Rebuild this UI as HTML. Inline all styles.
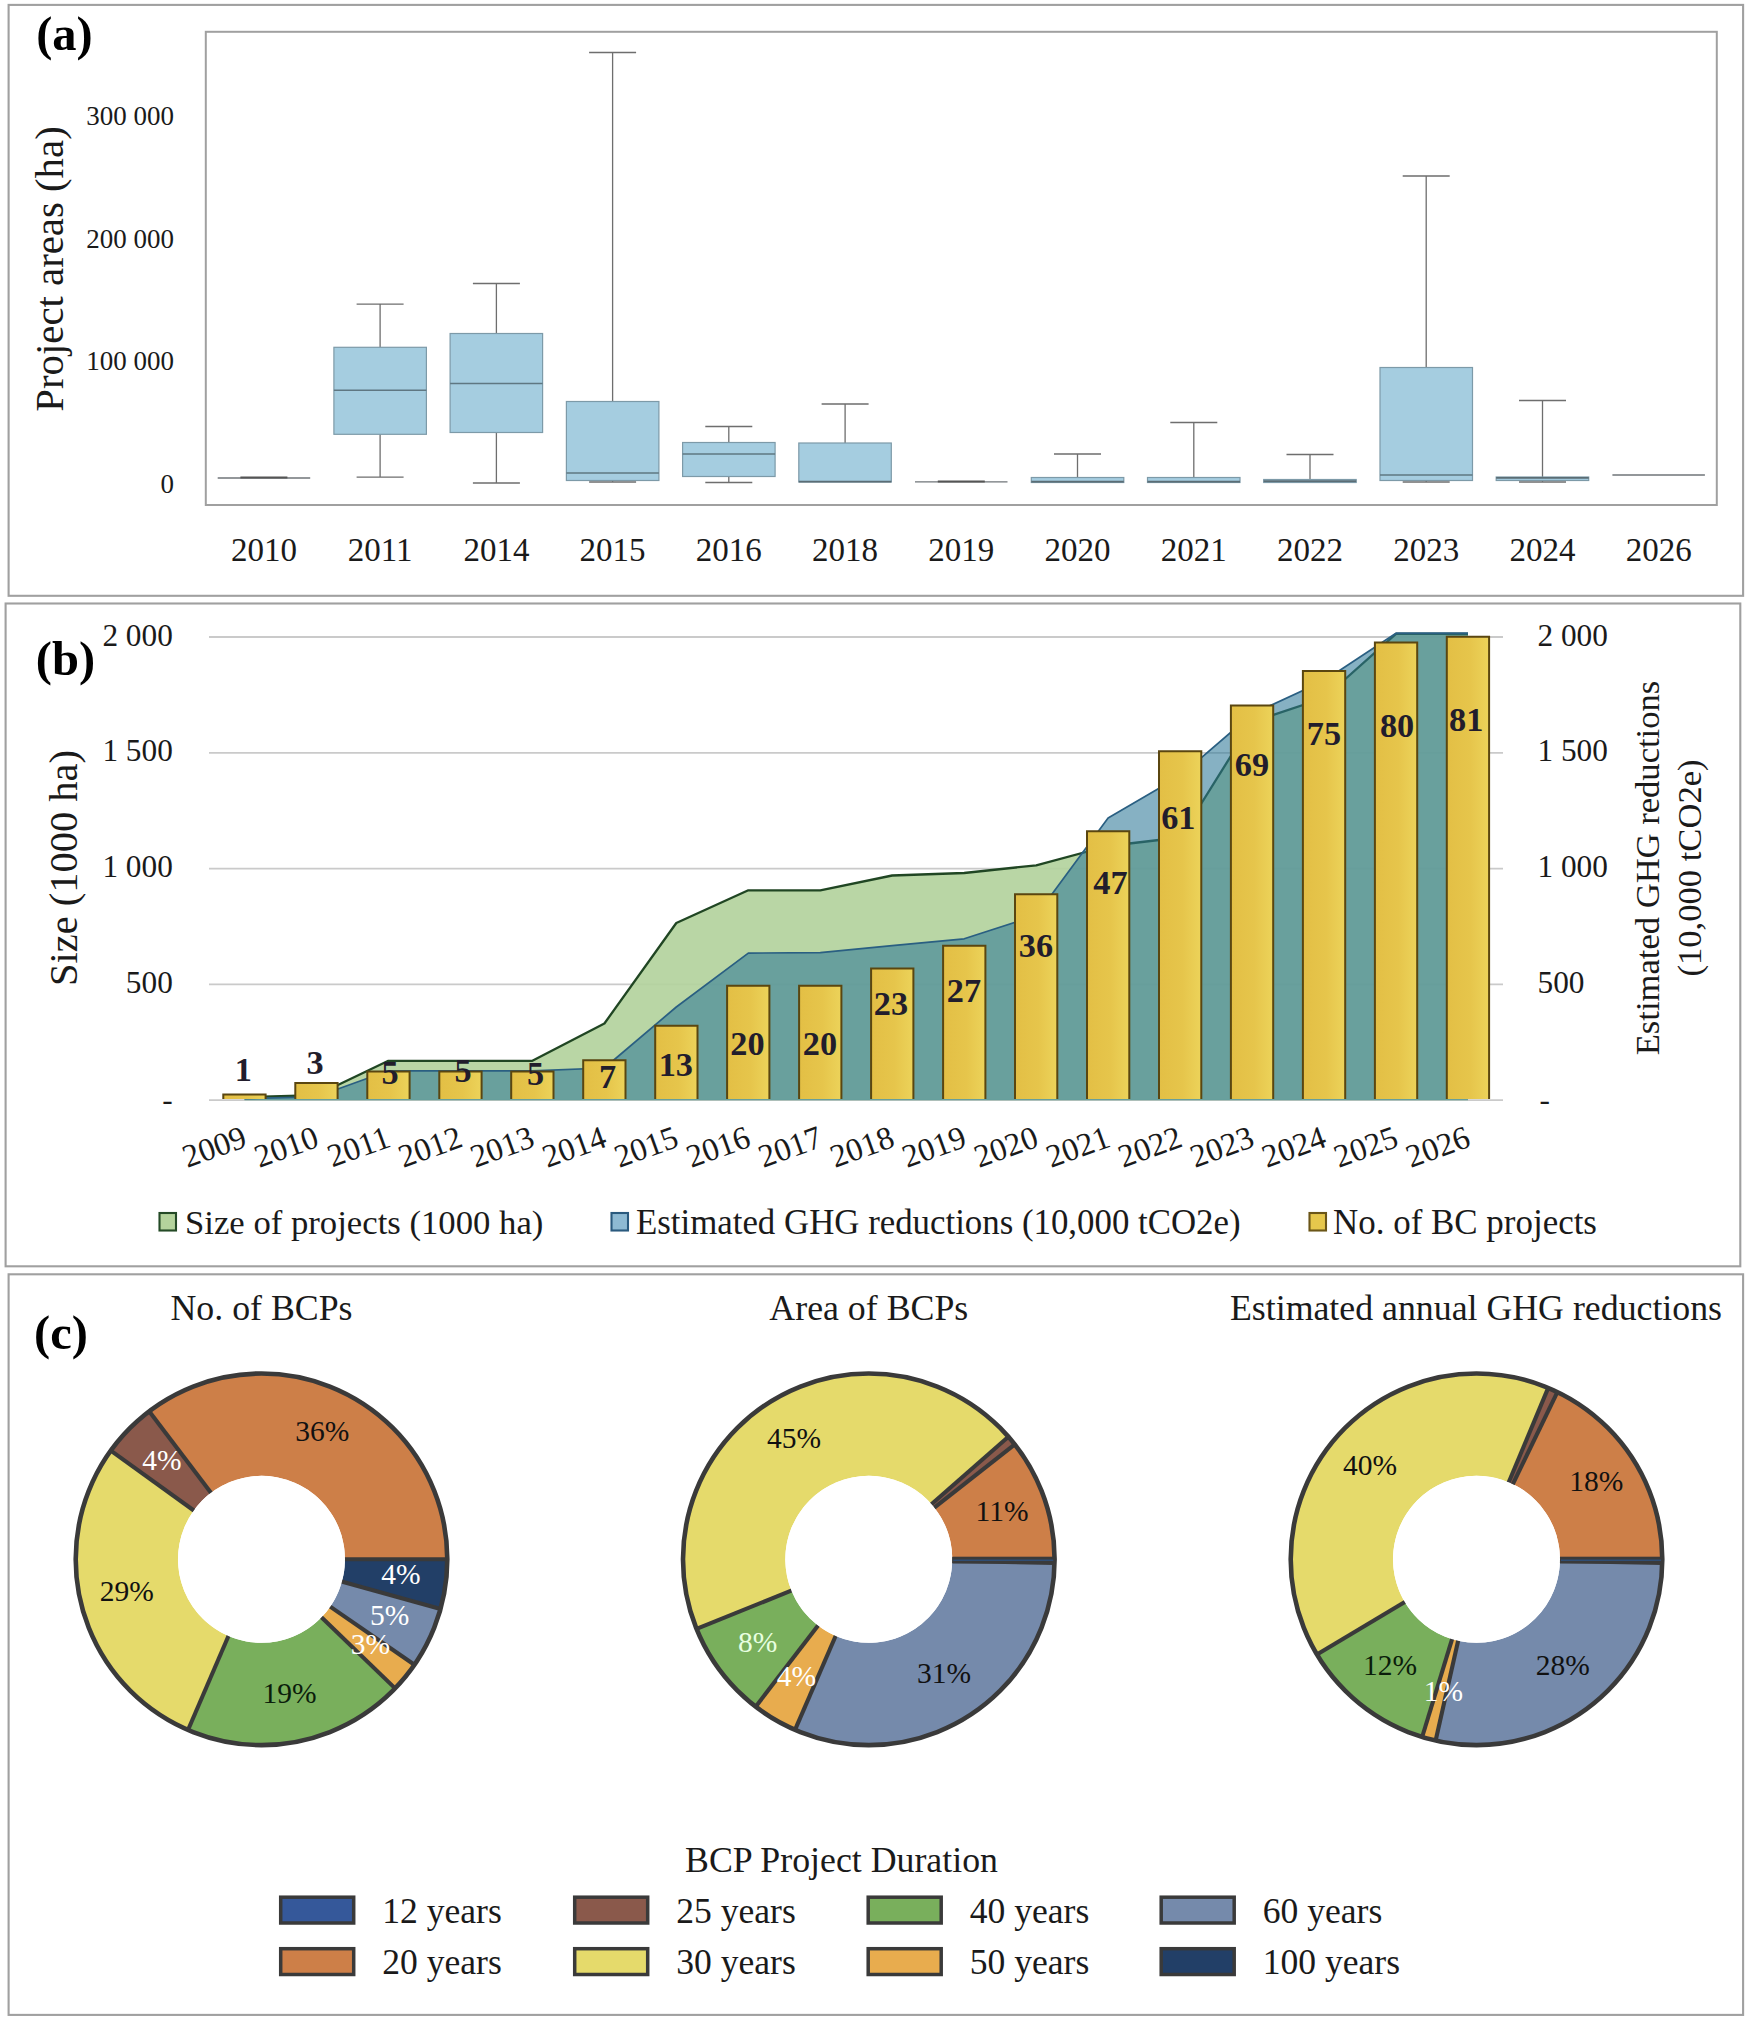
<!DOCTYPE html>
<html lang="en"><head><meta charset="utf-8"><title>Blue carbon projects figure</title>
<style>html,body{margin:0;padding:0;background:#fff}body{width:1750px;height:2023px;overflow:hidden;font-family:"Liberation Serif", "Times New Roman", serif}
svg text{font-kerning:normal}</style></head>
<body>
<svg width="1750" height="2023" viewBox="0 0 1750 2023" font-family='"Liberation Serif", "Times New Roman", serif' style="display:block">
<g id="panel-a">
<rect x="8.6" y="4.9" width="1734.5" height="590.9" fill="none" stroke="#a0a0a0" stroke-width="2.1"/>
<rect x="205.8" y="31.8" width="1511.0" height="473.2" fill="#fff" stroke="#a0a0a0" stroke-width="2"/>
<text x="36.2" y="50.0" font-size="48.5" text-anchor="start" font-weight="bold" fill="#000" >(a)</text>
<text x="174.0" y="124.6" font-size="27" text-anchor="end" font-weight="normal" fill="#1a1a1a" >300 000</text>
<text x="174.0" y="247.6" font-size="27" text-anchor="end" font-weight="normal" fill="#1a1a1a" >200 000</text>
<text x="174.0" y="369.6" font-size="27" text-anchor="end" font-weight="normal" fill="#1a1a1a" >100 000</text>
<text x="174.0" y="492.6" font-size="27" text-anchor="end" font-weight="normal" fill="#1a1a1a" >0</text>
<text transform="translate(63.2,269) rotate(-90)" font-size="40.8" text-anchor="middle" fill="#1a1a1a">Project areas (ha)</text>
<text x="263.9" y="561.3" font-size="33" text-anchor="middle" font-weight="normal" fill="#1a1a1a" >2010</text>
<text x="380.1" y="561.3" font-size="33" text-anchor="middle" font-weight="normal" fill="#1a1a1a" >2011</text>
<text x="496.4" y="561.3" font-size="33" text-anchor="middle" font-weight="normal" fill="#1a1a1a" >2014</text>
<text x="612.6" y="561.3" font-size="33" text-anchor="middle" font-weight="normal" fill="#1a1a1a" >2015</text>
<text x="728.8" y="561.3" font-size="33" text-anchor="middle" font-weight="normal" fill="#1a1a1a" >2016</text>
<text x="845.1" y="561.3" font-size="33" text-anchor="middle" font-weight="normal" fill="#1a1a1a" >2018</text>
<text x="961.3" y="561.3" font-size="33" text-anchor="middle" font-weight="normal" fill="#1a1a1a" >2019</text>
<text x="1077.5" y="561.3" font-size="33" text-anchor="middle" font-weight="normal" fill="#1a1a1a" >2020</text>
<text x="1193.8" y="561.3" font-size="33" text-anchor="middle" font-weight="normal" fill="#1a1a1a" >2021</text>
<text x="1310.0" y="561.3" font-size="33" text-anchor="middle" font-weight="normal" fill="#1a1a1a" >2022</text>
<text x="1426.2" y="561.3" font-size="33" text-anchor="middle" font-weight="normal" fill="#1a1a1a" >2023</text>
<text x="1542.5" y="561.3" font-size="33" text-anchor="middle" font-weight="normal" fill="#1a1a1a" >2024</text>
<text x="1658.7" y="561.3" font-size="33" text-anchor="middle" font-weight="normal" fill="#1a1a1a" >2026</text>
<path d="M217.7 478.0H310.2" stroke="#6f7478" stroke-width="1.3"/>
<path d="M240.4 477.6H287.4" stroke="#555" stroke-width="2"/>
<path d="M380.1 304.2V347.3M356.6 304.2H403.6" stroke="#6e6e6e" stroke-width="1.3" fill="none"/>
<path d="M380.1 434.3V477.2M356.6 477.2H403.6" stroke="#6e6e6e" stroke-width="1.3" fill="none"/>
<rect x="333.9" y="347.3" width="92.5" height="87.0" fill="#a5cde0" stroke="#7d9aa8" stroke-width="1.2"/>
<path d="M333.9 390.3H426.4" stroke="#5f7782" stroke-width="1.6"/>
<path d="M496.4 283.5V333.5M472.9 283.5H519.9" stroke="#6e6e6e" stroke-width="1.3" fill="none"/>
<path d="M496.4 432.5V483M472.9 483H519.9" stroke="#6e6e6e" stroke-width="1.3" fill="none"/>
<rect x="450.1" y="333.5" width="92.5" height="99.0" fill="#a5cde0" stroke="#7d9aa8" stroke-width="1.2"/>
<path d="M450.1 383.5H542.6" stroke="#5f7782" stroke-width="1.6"/>
<path d="M612.6 52.5V401.5M589.1 52.5H636.1" stroke="#6e6e6e" stroke-width="1.3" fill="none"/>
<path d="M612.6 480.5V482M589.1 482H636.1" stroke="#6e6e6e" stroke-width="1.3" fill="none"/>
<rect x="566.4" y="401.5" width="92.5" height="79.0" fill="#a5cde0" stroke="#7d9aa8" stroke-width="1.2"/>
<path d="M566.4 473H658.9" stroke="#5f7782" stroke-width="1.6"/>
<path d="M728.8 426.5V442.5M705.3 426.5H752.3" stroke="#6e6e6e" stroke-width="1.3" fill="none"/>
<path d="M728.8 476.5V482.5M705.3 482.5H752.3" stroke="#6e6e6e" stroke-width="1.3" fill="none"/>
<rect x="682.6" y="442.5" width="92.5" height="34.0" fill="#a5cde0" stroke="#7d9aa8" stroke-width="1.2"/>
<path d="M682.6 454H775.1" stroke="#5f7782" stroke-width="1.6"/>
<path d="M845.1 404V443M821.6 404H868.6" stroke="#6e6e6e" stroke-width="1.3" fill="none"/>
<rect x="798.8" y="443" width="92.5" height="39.0" fill="#a5cde0" stroke="#7d9aa8" stroke-width="1.2"/>
<path d="M798.8 481.6H891.3" stroke="#5b6d75" stroke-width="1.7"/>
<path d="M915.0 481.8H1007.5" stroke="#6f7478" stroke-width="1.3"/>
<path d="M937.8 481.40000000000003H984.8" stroke="#555" stroke-width="2"/>
<path d="M1077.5 454V477.5M1054.0 454H1101.0" stroke="#6e6e6e" stroke-width="1.3" fill="none"/>
<rect x="1031.3" y="477.5" width="92.5" height="5.0" fill="#a5cde0" stroke="#7d9aa8" stroke-width="1.2"/>
<path d="M1031.3 481.6H1123.8" stroke="#5b6d75" stroke-width="1.7"/>
<path d="M1193.8 422.5V477.5M1170.3 422.5H1217.3" stroke="#6e6e6e" stroke-width="1.3" fill="none"/>
<rect x="1147.5" y="477.5" width="92.5" height="5.0" fill="#a5cde0" stroke="#7d9aa8" stroke-width="1.2"/>
<path d="M1147.5 481.6H1240.0" stroke="#5b6d75" stroke-width="1.7"/>
<path d="M1310.0 454.5V479.5M1286.5 454.5H1333.5" stroke="#6e6e6e" stroke-width="1.3" fill="none"/>
<rect x="1263.7" y="479.5" width="92.5" height="3.0" fill="#a5cde0" stroke="#7d9aa8" stroke-width="1.2"/>
<path d="M1263.7 481.2H1356.2" stroke="#5b6d75" stroke-width="1.7"/>
<path d="M1426.2 176V367.5M1402.7 176H1449.7" stroke="#6e6e6e" stroke-width="1.3" fill="none"/>
<path d="M1426.2 480.5V482M1402.7 482H1449.7" stroke="#6e6e6e" stroke-width="1.3" fill="none"/>
<rect x="1380.0" y="367.5" width="92.5" height="113.0" fill="#a5cde0" stroke="#7d9aa8" stroke-width="1.2"/>
<path d="M1380.0 475H1472.5" stroke="#5f7782" stroke-width="1.6"/>
<path d="M1542.5 400.5V477M1519.0 400.5H1566.0" stroke="#6e6e6e" stroke-width="1.3" fill="none"/>
<path d="M1542.5 480.5V482M1519.0 482H1566.0" stroke="#6e6e6e" stroke-width="1.3" fill="none"/>
<rect x="1496.2" y="477" width="92.5" height="3.5" fill="#a5cde0" stroke="#7d9aa8" stroke-width="1.2"/>
<path d="M1496.2 477.9H1588.7" stroke="#5b6d75" stroke-width="1.7"/>
<path d="M1612.4 475.0H1704.9" stroke="#6f7478" stroke-width="1.3"/>
</g>
<g id="panel-b">
<rect x="5.6" y="603.5" width="1734.7" height="662.8" fill="none" stroke="#a0a0a0" stroke-width="2.1"/>
<text x="35.8" y="674.8" font-size="48.5" text-anchor="start" font-weight="bold" fill="#000" >(b)</text>
<path d="M209 1100.2H1503" stroke="#cacaca" stroke-width="1.8"/>
<path d="M209 984.4H1503" stroke="#cacaca" stroke-width="1.8"/>
<path d="M209 868.6H1503" stroke="#cacaca" stroke-width="1.8"/>
<path d="M209 752.8H1503" stroke="#cacaca" stroke-width="1.8"/>
<path d="M209 637.0H1503" stroke="#cacaca" stroke-width="1.8"/>
<text x="172.8" y="645.5" font-size="31.3" text-anchor="end" font-weight="normal" fill="#1a1a1a" >2 000</text>
<text x="1537.5" y="645.5" font-size="31.3" text-anchor="start" font-weight="normal" fill="#1a1a1a" >2 000</text>
<text x="172.8" y="761.3" font-size="31.3" text-anchor="end" font-weight="normal" fill="#1a1a1a" >1 500</text>
<text x="1537.5" y="761.3" font-size="31.3" text-anchor="start" font-weight="normal" fill="#1a1a1a" >1 500</text>
<text x="172.8" y="877.1" font-size="31.3" text-anchor="end" font-weight="normal" fill="#1a1a1a" >1 000</text>
<text x="1537.5" y="877.1" font-size="31.3" text-anchor="start" font-weight="normal" fill="#1a1a1a" >1 000</text>
<text x="172.8" y="992.9" font-size="31.3" text-anchor="end" font-weight="normal" fill="#1a1a1a" >500</text>
<text x="1537.5" y="992.9" font-size="31.3" text-anchor="start" font-weight="normal" fill="#1a1a1a" >500</text>
<text x="172.8" y="1110.4" font-size="31.3" text-anchor="end" font-weight="normal" fill="#1a1a1a" >-</text>
<text x="1539.6" y="1110.4" font-size="31.3" text-anchor="start" font-weight="normal" fill="#1a1a1a" >-</text>
<text transform="translate(77,868) rotate(-90)" font-size="40.5" text-anchor="middle" fill="#1a1a1a">Size (1000 ha)</text>
<text transform="translate(1659,868) rotate(-90)" font-size="34.6" text-anchor="middle" fill="#1a1a1a">Estimated GHG reductions</text>
<text transform="translate(1701,868) rotate(-90)" font-size="34.6" text-anchor="middle" fill="#1a1a1a">(10,000 tCO2e)</text>
<path d="M244.5 1100.2 L244.5 1097.3 L316.5 1095.2 L388.4 1060.8 L460.4 1060.8 L532.4 1060.8 L604.4 1023.5 L676.3 923.0 L748.3 890.3 L820.3 890.3 L892.2 875.5 L964.2 873.0 L1036.2 865.3 L1108.1 846.0 L1180.1 837.5 L1252.1 722.0 L1324.0 698.0 L1396.0 633.8 L1468.0 633.8 L1468.0 1100.2Z" fill="#b3d29d" fill-opacity="0.92" stroke="none"/>
<path d="M244.5 1097.3 L316.5 1095.2 L388.4 1060.8 L460.4 1060.8 L532.4 1060.8 L604.4 1023.5 L676.3 923.0 L748.3 890.3 L820.3 890.3 L892.2 875.5 L964.2 873.0 L1036.2 865.3 L1108.1 846.0 L1180.1 837.5 L1252.1 722.0 L1324.0 698.0 L1396.0 633.8 L1468.0 633.8" fill="none" stroke="#204623" stroke-width="2.3" stroke-linejoin="round"/>
<path d="M244.5 1100.2 L244.5 1098.6 L316.5 1096.8 L388.4 1070.8 L460.4 1070.8 L532.4 1070.8 L604.4 1068.0 L676.3 1007.0 L748.3 953.1 L820.3 952.6 L892.2 945.6 L964.2 938.8 L1036.2 915.4 L1108.1 818.0 L1180.1 776.0 L1252.1 714.0 L1324.0 680.7 L1396.0 633.2 L1468.0 633.2 L1468.0 1100.2Z" fill="#2f7898" fill-opacity="0.58" stroke="none"/>
<path d="M244.5 1098.6 L316.5 1096.8 L388.4 1070.8 L460.4 1070.8 L532.4 1070.8 L604.4 1068.0 L676.3 1007.0 L748.3 953.1 L820.3 952.6 L892.2 945.6 L964.2 938.8 L1036.2 915.4 L1108.1 818.0 L1180.1 776.0 L1252.1 714.0 L1324.0 680.7 L1396.0 633.2 L1468.0 633.2" fill="none" stroke="#2a5f82" stroke-width="1.7" stroke-linejoin="round"/>
<defs><linearGradient id="barg" x1="0" x2="1" y1="0" y2="0"><stop offset="0" stop-color="#e3bf45"/><stop offset="0.55" stop-color="#e6c54b"/><stop offset="1" stop-color="#ecd35a"/></linearGradient></defs>
<rect x="223.3" y="1094.5" width="42.3" height="4.5" fill="url(#barg)"/>
<path d="M223.3 1099.0V1094.5H265.6V1099.0" fill="none" stroke="#5a4610" stroke-width="2"/>
<rect x="295.3" y="1083.0" width="42.3" height="16.0" fill="url(#barg)"/>
<path d="M295.3 1099.0V1083.0H337.6V1099.0" fill="none" stroke="#5a4610" stroke-width="2"/>
<rect x="367.3" y="1071.6" width="42.3" height="27.4" fill="url(#barg)"/>
<path d="M367.3 1099.0V1071.6H409.6V1099.0" fill="none" stroke="#5a4610" stroke-width="2"/>
<rect x="439.3" y="1071.6" width="42.3" height="27.4" fill="url(#barg)"/>
<path d="M439.3 1099.0V1071.6H481.6V1099.0" fill="none" stroke="#5a4610" stroke-width="2"/>
<rect x="511.2" y="1071.6" width="42.3" height="27.4" fill="url(#barg)"/>
<path d="M511.2 1099.0V1071.6H553.5V1099.0" fill="none" stroke="#5a4610" stroke-width="2"/>
<rect x="583.2" y="1060.2" width="42.3" height="38.8" fill="url(#barg)"/>
<path d="M583.2 1099.0V1060.2H625.5V1099.0" fill="none" stroke="#5a4610" stroke-width="2"/>
<rect x="655.2" y="1025.8" width="42.3" height="73.2" fill="url(#barg)"/>
<path d="M655.2 1099.0V1025.8H697.5V1099.0" fill="none" stroke="#5a4610" stroke-width="2"/>
<rect x="727.1" y="985.8" width="42.3" height="113.2" fill="url(#barg)"/>
<path d="M727.1 1099.0V985.8H769.4V1099.0" fill="none" stroke="#5a4610" stroke-width="2"/>
<rect x="799.1" y="985.8" width="42.3" height="113.2" fill="url(#barg)"/>
<path d="M799.1 1099.0V985.8H841.4V1099.0" fill="none" stroke="#5a4610" stroke-width="2"/>
<rect x="871.1" y="968.6" width="42.3" height="130.4" fill="url(#barg)"/>
<path d="M871.1 1099.0V968.6H913.4V1099.0" fill="none" stroke="#5a4610" stroke-width="2"/>
<rect x="943.1" y="945.7" width="42.3" height="153.3" fill="url(#barg)"/>
<path d="M943.1 1099.0V945.7H985.4V1099.0" fill="none" stroke="#5a4610" stroke-width="2"/>
<rect x="1015.0" y="894.2" width="42.3" height="204.8" fill="url(#barg)"/>
<path d="M1015.0 1099.0V894.2H1057.3V1099.0" fill="none" stroke="#5a4610" stroke-width="2"/>
<rect x="1087.0" y="831.3" width="42.3" height="267.7" fill="url(#barg)"/>
<path d="M1087.0 1099.0V831.3H1129.3V1099.0" fill="none" stroke="#5a4610" stroke-width="2"/>
<rect x="1159.0" y="751.2" width="42.3" height="347.8" fill="url(#barg)"/>
<path d="M1159.0 1099.0V751.2H1201.3V1099.0" fill="none" stroke="#5a4610" stroke-width="2"/>
<rect x="1230.9" y="705.5" width="42.3" height="393.5" fill="url(#barg)"/>
<path d="M1230.9 1099.0V705.5H1273.2V1099.0" fill="none" stroke="#5a4610" stroke-width="2"/>
<rect x="1302.9" y="671.1" width="42.3" height="427.9" fill="url(#barg)"/>
<path d="M1302.9 1099.0V671.1H1345.2V1099.0" fill="none" stroke="#5a4610" stroke-width="2"/>
<rect x="1374.9" y="642.5" width="42.3" height="456.5" fill="url(#barg)"/>
<path d="M1374.9 1099.0V642.5H1417.2V1099.0" fill="none" stroke="#5a4610" stroke-width="2"/>
<rect x="1446.8" y="636.8" width="42.3" height="462.2" fill="url(#barg)"/>
<path d="M1446.8 1099.0V636.8H1489.1V1099.0" fill="none" stroke="#5a4610" stroke-width="2"/>
<text x="243.3" y="1080.5" font-size="34.3" text-anchor="middle" font-weight="bold" fill="#221d2c" >1</text>
<text x="315.2" y="1074.3" font-size="34.3" text-anchor="middle" font-weight="bold" fill="#221d2c" >3</text>
<text x="390.2" y="1084.4" font-size="34.3" text-anchor="middle" font-weight="bold" fill="#221d2c" >5</text>
<text x="463.0" y="1082.2" font-size="34.3" text-anchor="middle" font-weight="bold" fill="#221d2c" >5</text>
<text x="535.5" y="1084.6" font-size="34.3" text-anchor="middle" font-weight="bold" fill="#221d2c" >5</text>
<text x="607.7" y="1088.0" font-size="34.3" text-anchor="middle" font-weight="bold" fill="#221d2c" >7</text>
<text x="675.8" y="1076.0" font-size="34.3" text-anchor="middle" font-weight="bold" fill="#221d2c" >13</text>
<text x="747.5" y="1055.2" font-size="34.3" text-anchor="middle" font-weight="bold" fill="#221d2c" >20</text>
<text x="819.9" y="1054.6" font-size="34.3" text-anchor="middle" font-weight="bold" fill="#221d2c" >20</text>
<text x="891.0" y="1014.7" font-size="34.3" text-anchor="middle" font-weight="bold" fill="#221d2c" >23</text>
<text x="963.9" y="1001.6" font-size="34.3" text-anchor="middle" font-weight="bold" fill="#221d2c" >27</text>
<text x="1035.9" y="957.1" font-size="34.3" text-anchor="middle" font-weight="bold" fill="#221d2c" >36</text>
<text x="1110.4" y="894.2" font-size="34.3" text-anchor="middle" font-weight="bold" fill="#221d2c" >47</text>
<text x="1178.3" y="828.8" font-size="34.3" text-anchor="middle" font-weight="bold" fill="#221d2c" >61</text>
<text x="1251.9" y="776.1" font-size="34.3" text-anchor="middle" font-weight="bold" fill="#221d2c" >69</text>
<text x="1323.9" y="745.3" font-size="34.3" text-anchor="middle" font-weight="bold" fill="#221d2c" >75</text>
<text x="1397.1" y="737.0" font-size="34.3" text-anchor="middle" font-weight="bold" fill="#221d2c" >80</text>
<text x="1466.2" y="730.9" font-size="34.3" text-anchor="middle" font-weight="bold" fill="#221d2c" >81</text>
<text transform="translate(248.5,1146.0) rotate(-19.8)" font-size="32.5" text-anchor="end" fill="#1a1a1a">2009</text>
<text transform="translate(320.5,1146.0) rotate(-19.8)" font-size="32.5" text-anchor="end" fill="#1a1a1a">2010</text>
<text transform="translate(392.4,1146.0) rotate(-19.8)" font-size="32.5" text-anchor="end" fill="#1a1a1a">2011</text>
<text transform="translate(464.4,1146.0) rotate(-19.8)" font-size="32.5" text-anchor="end" fill="#1a1a1a">2012</text>
<text transform="translate(536.4,1146.0) rotate(-19.8)" font-size="32.5" text-anchor="end" fill="#1a1a1a">2013</text>
<text transform="translate(608.4,1146.0) rotate(-19.8)" font-size="32.5" text-anchor="end" fill="#1a1a1a">2014</text>
<text transform="translate(680.3,1146.0) rotate(-19.8)" font-size="32.5" text-anchor="end" fill="#1a1a1a">2015</text>
<text transform="translate(752.3,1146.0) rotate(-19.8)" font-size="32.5" text-anchor="end" fill="#1a1a1a">2016</text>
<text transform="translate(824.3,1146.0) rotate(-19.8)" font-size="32.5" text-anchor="end" fill="#1a1a1a">2017</text>
<text transform="translate(896.2,1146.0) rotate(-19.8)" font-size="32.5" text-anchor="end" fill="#1a1a1a">2018</text>
<text transform="translate(968.2,1146.0) rotate(-19.8)" font-size="32.5" text-anchor="end" fill="#1a1a1a">2019</text>
<text transform="translate(1040.2,1146.0) rotate(-19.8)" font-size="32.5" text-anchor="end" fill="#1a1a1a">2020</text>
<text transform="translate(1112.1,1146.0) rotate(-19.8)" font-size="32.5" text-anchor="end" fill="#1a1a1a">2021</text>
<text transform="translate(1184.1,1146.0) rotate(-19.8)" font-size="32.5" text-anchor="end" fill="#1a1a1a">2022</text>
<text transform="translate(1256.1,1146.0) rotate(-19.8)" font-size="32.5" text-anchor="end" fill="#1a1a1a">2023</text>
<text transform="translate(1328.0,1146.0) rotate(-19.8)" font-size="32.5" text-anchor="end" fill="#1a1a1a">2024</text>
<text transform="translate(1400.0,1146.0) rotate(-19.8)" font-size="32.5" text-anchor="end" fill="#1a1a1a">2025</text>
<text transform="translate(1472.0,1146.0) rotate(-19.8)" font-size="32.5" text-anchor="end" fill="#1a1a1a">2026</text>
<rect x="159.5" y="1213" width="16.5" height="17.5" fill="#b4d39c" stroke="#244a26" stroke-width="2.1"/>
<text x="185.0" y="1234.0" font-size="34.7" text-anchor="start" font-weight="normal" fill="#1a1a1a" >Size of projects (1000 ha)</text>
<rect x="611.5" y="1213" width="16.5" height="17.5" fill="#8ebad3" stroke="#2a5a7e" stroke-width="2.1"/>
<text x="636.0" y="1234.0" font-size="34.85" text-anchor="start" font-weight="normal" fill="#1a1a1a" >Estimated GHG reductions (10,000 tCO2e)</text>
<rect x="1309.5" y="1213" width="16.5" height="17.5" fill="#e6c74c" stroke="#6b5618" stroke-width="2.1"/>
<text x="1333.0" y="1234.0" font-size="34.95" text-anchor="start" font-weight="normal" fill="#1a1a1a" >No. of BC projects</text>
</g>
<g id="panel-c">
<rect x="8.6" y="1274.3" width="1734.5" height="740.6000000000001" fill="none" stroke="#a0a0a0" stroke-width="2.1"/>
<text x="34.0" y="1349.0" font-size="48.5" text-anchor="start" font-weight="bold" fill="#000" >(c)</text>
<path d="M447.30 1559.30A185.8 185.8 0 0 0 149.17 1411.30L211.02 1492.79A83.5 83.5 0 0 1 345.00 1559.30Z" fill="#cd7f48"/>
<path d="M149.17 1411.30A185.8 185.8 0 0 0 110.80 1450.61L193.78 1510.46A83.5 83.5 0 0 1 211.02 1492.79Z" fill="#8a594b"/>
<path d="M110.80 1450.61A185.8 185.8 0 0 0 188.01 1729.95L228.47 1635.99A83.5 83.5 0 0 1 193.78 1510.46Z" fill="#e5da6b"/>
<path d="M188.01 1729.95A185.8 185.8 0 0 0 395.15 1688.37L321.56 1617.30A83.5 83.5 0 0 1 228.47 1635.99Z" fill="#79af5c"/>
<path d="M395.15 1688.37A185.8 185.8 0 0 0 414.44 1664.81L330.23 1606.71A83.5 83.5 0 0 1 321.56 1617.30Z" fill="#e8ac4e"/>
<path d="M414.44 1664.81A185.8 185.8 0 0 0 440.54 1608.95L341.96 1581.61A83.5 83.5 0 0 1 330.23 1606.71Z" fill="#758aab"/>
<path d="M440.54 1608.95A185.8 185.8 0 0 0 447.30 1559.30L345.00 1559.30A83.5 83.5 0 0 1 341.96 1581.61Z" fill="#223f67"/>
<path d="M344.50 1559.30L447.30 1559.30" stroke="#3a3a3a" stroke-width="4.1"/>
<path d="M211.32 1493.19L149.17 1411.30" stroke="#3a3a3a" stroke-width="4.1"/>
<path d="M194.18 1510.75L110.80 1450.61" stroke="#3a3a3a" stroke-width="4.1"/>
<path d="M228.67 1635.53L188.01 1729.95" stroke="#3a3a3a" stroke-width="4.1"/>
<path d="M321.21 1616.96L395.15 1688.37" stroke="#3a3a3a" stroke-width="4.1"/>
<path d="M329.82 1606.43L414.44 1664.81" stroke="#3a3a3a" stroke-width="4.1"/>
<path d="M341.48 1581.48L440.54 1608.95" stroke="#3a3a3a" stroke-width="4.1"/>
<circle cx="261.5" cy="1559.3" r="185.8" fill="none" stroke="#3a3a3a" stroke-width="4.6"/>
<circle cx="261.5" cy="1559.3" r="83.5" fill="#fff"/>
<path d="M1054.60 1559.30A185.8 185.8 0 0 0 1014.81 1444.40L934.42 1507.66A83.5 83.5 0 0 1 952.30 1559.30Z" fill="#cd7f48"/>
<path d="M1014.81 1444.40A185.8 185.8 0 0 0 1008.38 1436.67L931.53 1504.19A83.5 83.5 0 0 1 934.42 1507.66Z" fill="#8a594b"/>
<path d="M1008.38 1436.67A185.8 185.8 0 0 0 696.53 1628.90L791.38 1590.58A83.5 83.5 0 0 1 931.53 1504.19Z" fill="#e5da6b"/>
<path d="M696.53 1628.90A185.8 185.8 0 0 0 755.69 1706.71L817.97 1625.55A83.5 83.5 0 0 1 791.38 1590.58Z" fill="#79af5c"/>
<path d="M755.69 1706.71A185.8 185.8 0 0 0 795.01 1729.82L835.64 1635.93A83.5 83.5 0 0 1 817.97 1625.55Z" fill="#e8ac4e"/>
<path d="M795.01 1729.82A185.8 185.8 0 0 0 1054.57 1562.87L952.28 1560.90A83.5 83.5 0 0 1 835.64 1635.93Z" fill="#758aab"/>
<path d="M1054.57 1562.87A185.8 185.8 0 0 0 1054.60 1559.30L952.30 1559.30A83.5 83.5 0 0 1 952.28 1560.90Z" fill="#223f67"/>
<path d="M951.80 1559.30L1054.60 1559.30" stroke="#3a3a3a" stroke-width="4.1"/>
<path d="M934.03 1507.97L1014.81 1444.40" stroke="#3a3a3a" stroke-width="4.1"/>
<path d="M931.15 1504.52L1008.38 1436.67" stroke="#3a3a3a" stroke-width="4.1"/>
<path d="M791.84 1590.39L696.53 1628.90" stroke="#3a3a3a" stroke-width="4.1"/>
<path d="M818.27 1625.15L755.69 1706.71" stroke="#3a3a3a" stroke-width="4.1"/>
<path d="M835.84 1635.47L795.01 1729.82" stroke="#3a3a3a" stroke-width="4.1"/>
<path d="M951.78 1560.89L1054.57 1562.87" stroke="#3a3a3a" stroke-width="4.1"/>
<circle cx="868.8" cy="1559.3" r="185.8" fill="none" stroke="#3a3a3a" stroke-width="4.6"/>
<circle cx="868.8" cy="1559.3" r="83.5" fill="#fff"/>
<path d="M1662.30 1559.30A185.8 185.8 0 0 0 1557.37 1392.02L1512.84 1484.12A83.5 83.5 0 0 1 1560.00 1559.30Z" fill="#cd7f48"/>
<path d="M1557.37 1392.02A185.8 185.8 0 0 0 1548.20 1387.89L1508.72 1482.27A83.5 83.5 0 0 1 1512.84 1484.12Z" fill="#8a594b"/>
<path d="M1548.20 1387.89A185.8 185.8 0 0 0 1316.91 1654.44L1404.78 1602.06A83.5 83.5 0 0 1 1508.72 1482.27Z" fill="#e5da6b"/>
<path d="M1316.91 1654.44A185.8 185.8 0 0 0 1422.18 1736.98L1452.09 1639.15A83.5 83.5 0 0 1 1404.78 1602.06Z" fill="#79af5c"/>
<path d="M1422.18 1736.98A185.8 185.8 0 0 0 1435.65 1740.55L1458.14 1640.76A83.5 83.5 0 0 1 1452.09 1639.15Z" fill="#e8ac4e"/>
<path d="M1435.65 1740.55A185.8 185.8 0 0 0 1662.27 1562.87L1559.98 1560.90A83.5 83.5 0 0 1 1458.14 1640.76Z" fill="#758aab"/>
<path d="M1662.27 1562.87A185.8 185.8 0 0 0 1662.30 1559.30L1560.00 1559.30A83.5 83.5 0 0 1 1559.98 1560.90Z" fill="#223f67"/>
<path d="M1559.50 1559.30L1662.30 1559.30" stroke="#3a3a3a" stroke-width="4.1"/>
<path d="M1512.62 1484.57L1557.37 1392.02" stroke="#3a3a3a" stroke-width="4.1"/>
<path d="M1508.53 1482.73L1548.20 1387.89" stroke="#3a3a3a" stroke-width="4.1"/>
<path d="M1405.21 1601.80L1316.91 1654.44" stroke="#3a3a3a" stroke-width="4.1"/>
<path d="M1452.23 1638.67L1422.18 1736.98" stroke="#3a3a3a" stroke-width="4.1"/>
<path d="M1458.25 1640.27L1435.65 1740.55" stroke="#3a3a3a" stroke-width="4.1"/>
<path d="M1559.48 1560.89L1662.27 1562.87" stroke="#3a3a3a" stroke-width="4.1"/>
<circle cx="1476.5" cy="1559.3" r="185.8" fill="none" stroke="#3a3a3a" stroke-width="4.6"/>
<circle cx="1476.5" cy="1559.3" r="83.5" fill="#fff"/>
<rect x="952.3" y="1556.7" width="103.5" height="6.8" fill="#3a3a3a"/>
<rect x="953.3" y="1559.5" width="100.0" height="1.5" fill="#2f4d74"/>
<rect x="1560.0" y="1556.7" width="103.5" height="6.8" fill="#3a3a3a"/>
<rect x="1561.0" y="1559.5" width="100.0" height="1.5" fill="#2f4d74"/>
<text x="322.4" y="1440.8" font-size="29.5" text-anchor="middle" font-weight="normal" fill="#111" >36%</text>
<text x="161.9" y="1469.7" font-size="29.5" text-anchor="middle" font-weight="normal" fill="#fff" >4%</text>
<text x="126.8" y="1601.3" font-size="29.5" text-anchor="middle" font-weight="normal" fill="#111" >29%</text>
<text x="289.6" y="1703.3" font-size="29.5" text-anchor="middle" font-weight="normal" fill="#0b1d0b" >19%</text>
<text x="370.4" y="1654.0" font-size="29.5" text-anchor="middle" font-weight="normal" fill="#fff" >3%</text>
<text x="389.7" y="1624.8" font-size="29.5" text-anchor="middle" font-weight="normal" fill="#fff" >5%</text>
<text x="400.9" y="1583.8" font-size="29.5" text-anchor="middle" font-weight="normal" fill="#fff" >4%</text>
<text x="794.0" y="1447.9" font-size="29.5" text-anchor="middle" font-weight="normal" fill="#111" >45%</text>
<text x="1002.1" y="1520.5" font-size="29.5" text-anchor="middle" font-weight="normal" fill="#111" >11%</text>
<text x="757.7" y="1651.7" font-size="29.5" text-anchor="middle" font-weight="normal" fill="#e8ffe0" >8%</text>
<text x="796.4" y="1685.7" font-size="29.5" text-anchor="middle" font-weight="normal" fill="#fff" >4%</text>
<text x="944.0" y="1683.3" font-size="29.5" text-anchor="middle" font-weight="normal" fill="#111" >31%</text>
<text x="1370.0" y="1474.8" font-size="29.5" text-anchor="middle" font-weight="normal" fill="#111" >40%</text>
<text x="1596.2" y="1491.2" font-size="29.5" text-anchor="middle" font-weight="normal" fill="#111" >18%</text>
<text x="1390.0" y="1675.1" font-size="29.5" text-anchor="middle" font-weight="normal" fill="#0b1d0b" >12%</text>
<text x="1443.4" y="1700.9" font-size="29.5" text-anchor="middle" font-weight="normal" fill="#fff" >1%</text>
<text x="1562.9" y="1675.1" font-size="29.5" text-anchor="middle" font-weight="normal" fill="#111" >28%</text>
<text x="261.5" y="1319.5" font-size="35.8" text-anchor="middle" font-weight="normal" fill="#1a1a1a" >No. of BCPs</text>
<text x="868.8" y="1319.5" font-size="35.8" text-anchor="middle" font-weight="normal" fill="#1a1a1a" >Area of BCPs</text>
<text x="1476.0" y="1319.5" font-size="35.8" text-anchor="middle" font-weight="normal" fill="#1a1a1a" >Estimated annual GHG reductions</text>
<text x="841.5" y="1872.0" font-size="35.8" text-anchor="middle" font-weight="normal" fill="#1a1a1a" >BCP Project Duration</text>
<rect x="280.7" y="1897.2" width="73.0" height="25.8" fill="#35589a" stroke="#3a3a3a" stroke-width="3.5"/>
<text x="382.2" y="1922.8" font-size="35.6" text-anchor="start" font-weight="normal" fill="#1a1a1a" >12 years</text>
<rect x="574.7" y="1897.2" width="73.0" height="25.8" fill="#8a594b" stroke="#3a3a3a" stroke-width="3.5"/>
<text x="676.2" y="1922.8" font-size="35.6" text-anchor="start" font-weight="normal" fill="#1a1a1a" >25 years</text>
<rect x="868.2" y="1897.2" width="73.0" height="25.8" fill="#79af5c" stroke="#3a3a3a" stroke-width="3.5"/>
<text x="969.7" y="1922.8" font-size="35.6" text-anchor="start" font-weight="normal" fill="#1a1a1a" >40 years</text>
<rect x="1161.2" y="1897.2" width="73.0" height="25.8" fill="#758aab" stroke="#3a3a3a" stroke-width="3.5"/>
<text x="1262.7" y="1922.8" font-size="35.6" text-anchor="start" font-weight="normal" fill="#1a1a1a" >60 years</text>
<rect x="280.7" y="1948.7" width="73.0" height="25.8" fill="#cd7f48" stroke="#3a3a3a" stroke-width="3.5"/>
<text x="382.2" y="1974.3" font-size="35.6" text-anchor="start" font-weight="normal" fill="#1a1a1a" >20 years</text>
<rect x="574.7" y="1948.7" width="73.0" height="25.8" fill="#e5da6b" stroke="#3a3a3a" stroke-width="3.5"/>
<text x="676.2" y="1974.3" font-size="35.6" text-anchor="start" font-weight="normal" fill="#1a1a1a" >30 years</text>
<rect x="868.2" y="1948.7" width="73.0" height="25.8" fill="#e8ac4e" stroke="#3a3a3a" stroke-width="3.5"/>
<text x="969.7" y="1974.3" font-size="35.6" text-anchor="start" font-weight="normal" fill="#1a1a1a" >50 years</text>
<rect x="1161.2" y="1948.7" width="73.0" height="25.8" fill="#223f67" stroke="#3a3a3a" stroke-width="3.5"/>
<text x="1262.7" y="1974.3" font-size="35.6" text-anchor="start" font-weight="normal" fill="#1a1a1a" >100 years</text>
</g>
</svg>
</body></html>
